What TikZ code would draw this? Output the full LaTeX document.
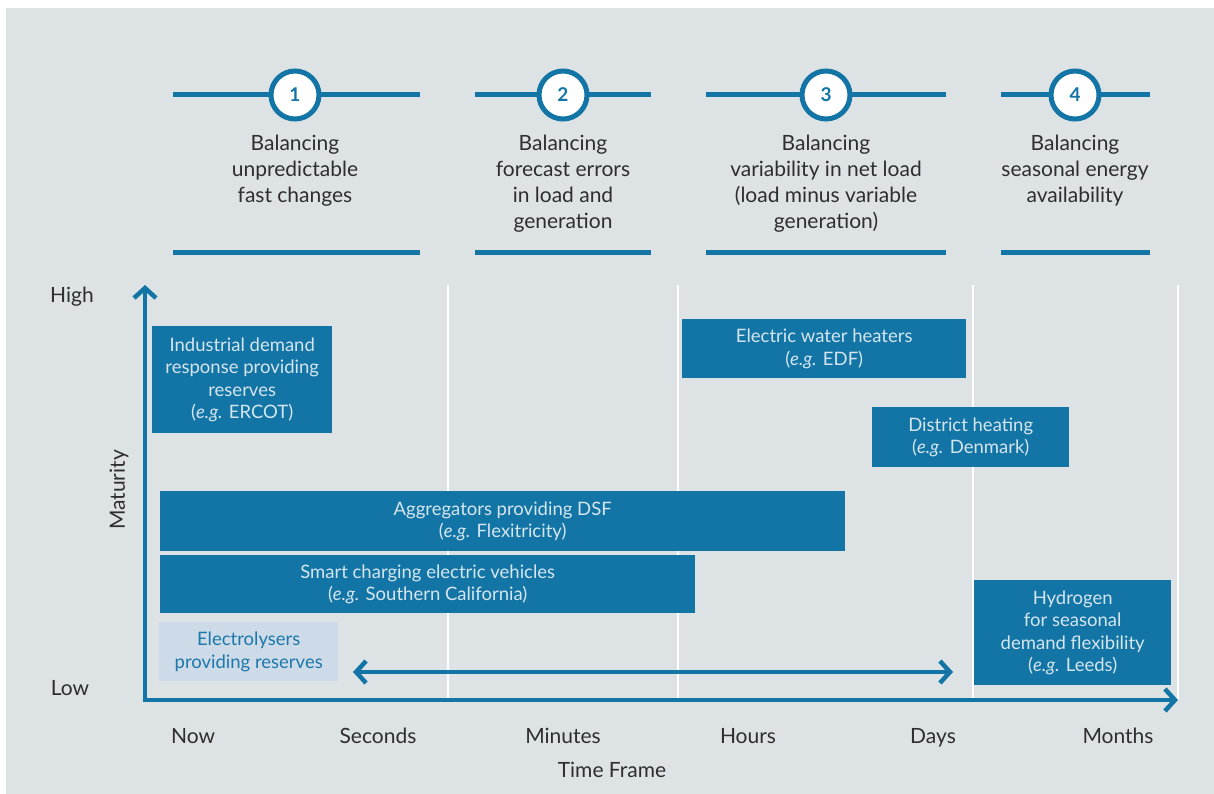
\documentclass[tikz,border=0pt]{standalone}
\usepackage{fontspec}
\setmainfont{Lato}
\usetikzlibrary{arrows.meta}
\definecolor{bg}{HTML}{DDE2E5}
\definecolor{irblue}{HTML}{1275A6}
\definecolor{lightbox}{HTML}{CCDBE7}
\definecolor{lighttext}{HTML}{1D77AA}
\definecolor{boxtext}{HTML}{D6E6F0}
\definecolor{darktext}{HTML}{2E2E2E}
\tikzset{
  hdrline/.style={draw=irblue, line width=5, line cap=butt},
  numcircle/.style={circle, draw=irblue, line width=5, fill=white, minimum size=48, inner sep=0,
    text=irblue, font=\bfseries\fontsize{19}{19}\selectfont},
  hdrtext/.style={align=center, text=darktext, inner sep=0, font=\fontsize{21}{26}\selectfont},
  lbl/.style={text=darktext, inner sep=0, anchor=base, font=\fontsize{21}{24}\selectfont},
  box/.style={fill=irblue, text=boxtext, inner sep=0, anchor=north west, align=center,
    font=\fontsize{18.5}{22.5}\selectfont},
  lbox/.style={box, fill=lightbox, text=lighttext},
  axisline/.style={draw=irblue, line width=4.5, -{Straight Barb[length=10,width=22]}},
  dblarrow/.style={draw=irblue, line width=4.5, {Straight Barb[length=10,width=22]}-{Straight Barb[length=10,width=22]}},
  gridline/.style={draw=white, line width=1.3},
}
\begin{document}
\begin{tikzpicture}[x=1pt, y=-1pt]
\useasboundingbox (0,0) rectangle (1214,794);
\fill[white] (0,0) rectangle (1214,794);
\fill[bg] (6,8) rectangle (1214,794);

% header groups
\coordinate (h1a) at (173,95); \coordinate (h1b) at (420,95);
\coordinate (h2a) at (475,95); \coordinate (h2b) at (651,95);
\coordinate (h3a) at (706,95); \coordinate (h3b) at (946,95);
\coordinate (h4a) at (1001,95); \coordinate (h4b) at (1150,95);
\coordinate (b1a) at (173,252); \coordinate (b1b) at (420,252);
\coordinate (b2a) at (475,252); \coordinate (b2b) at (651,252);
\coordinate (b3a) at (706,252); \coordinate (b3b) at (946,252);
\coordinate (b4a) at (1001,252); \coordinate (b4b) at (1150,252);
\draw[hdrline] (h1a) -- (h1b);
\draw[hdrline] (h2a) -- (h2b);
\draw[hdrline] (h3a) -- (h3b);
\draw[hdrline] (h4a) -- (h4b);
\draw[hdrline] (b1a) -- (b1b);
\draw[hdrline] (b2a) -- (b2b);
\draw[hdrline] (b3a) -- (b3b);
\draw[hdrline] (b4a) -- (b4b);
\node[numcircle] (c1) at (295,95) {1};
\node[numcircle] (c2) at (563,95) {2};
\node[numcircle] (c3) at (826,95) {3};
\node[numcircle] (c4) at (1075,95) {4};
\node[hdrtext] (t1) at (295,171) {Balancing\\unpredictable\\fast changes};
\node[hdrtext] (t2) at (563,184) {Balancing\\forecast errors\\in load and\\generation};
\node[hdrtext] (t3) at (826,184) {Balancing\\variability in net load\\(load minus variable\\generation)};
\node[hdrtext] (t4) at (1075,171) {Balancing\\seasonal energy\\availability};

% grid lines
\coordinate (g1t) at (448,285); \coordinate (g1b) at (448,700);
\coordinate (g2t) at (678,285); \coordinate (g2b) at (678,700);
\coordinate (g3t) at (973,285); \coordinate (g3b) at (973,700);
\coordinate (g4t) at (1178,285); \coordinate (g4b) at (1178,700);
\draw[gridline] (g1t) -- (g1b);
\draw[gridline] (g2t) -- (g2b);
\draw[gridline] (g3t) -- (g3b);
\draw[gridline] (g4t) -- (g4b);

% boxes
\node[box, minimum width=180, minimum height=107] (ind) at (152,326)
  {Industrial demand\\response providing\\reserves\\(\textit{e.g.} ERCOT)};
\node[box, minimum width=685, minimum height=60] (agg) at (160,491)
  {Aggregators providing DSF\\(\textit{e.g.} Flexitricity)};
\node[box, minimum width=535, minimum height=58] (ev) at (160,555)
  {Smart charging electric vehicles\\(\textit{e.g.} Southern California)};
\node[lbox, minimum width=179, minimum height=59] (ely) at (159,622)
  {Electrolysers\\providing reserves};
\node[box, minimum width=284, minimum height=59] (ewh) at (682,319)
  {Electric water heaters\\(\textit{e.g.} EDF)};
\node[box, minimum width=197, minimum height=60] (dh) at (872,407)
  {District heating\\(\textit{e.g.} Denmark)};
\node[box, minimum width=197, minimum height=105] (hyd) at (974,580)
  {Hydrogen\\for seasonal\\demand flexibility\\(\textit{e.g.} Leeds)};

% double arrow
\coordinate (da) at (353,672); \coordinate (db) at (953,672);
\draw[dblarrow] (da) -- (db);

% axes
\coordinate (o) at (145,700);
\coordinate (ytip) at (145,285);
\coordinate (xtip) at (1178,700);
\draw[axisline] (o) -- (ytip);
\draw[axisline] ([xshift=-2.25]o) -- (xtip);

% labels
\node[lbl] (high) at (72,302) {High};
\node[lbl] (low) at (70,695) {Low};
\node[lbl, rotate=90, anchor=center] (mat) at (119,490) {Maturity};
\node[lbl] (now) at (193,743) {Now};
\node[lbl] (sec) at (378,743) {Seconds};
\node[lbl] (min) at (563,743) {Minutes};
\node[lbl] (hrs) at (748,743) {Hours};
\node[lbl] (days) at (933,743) {Days};
\node[lbl] (mon) at (1118,743) {Months};
\node[lbl] (tf) at (612,777) {Time Frame};
\end{tikzpicture}
\end{document}
